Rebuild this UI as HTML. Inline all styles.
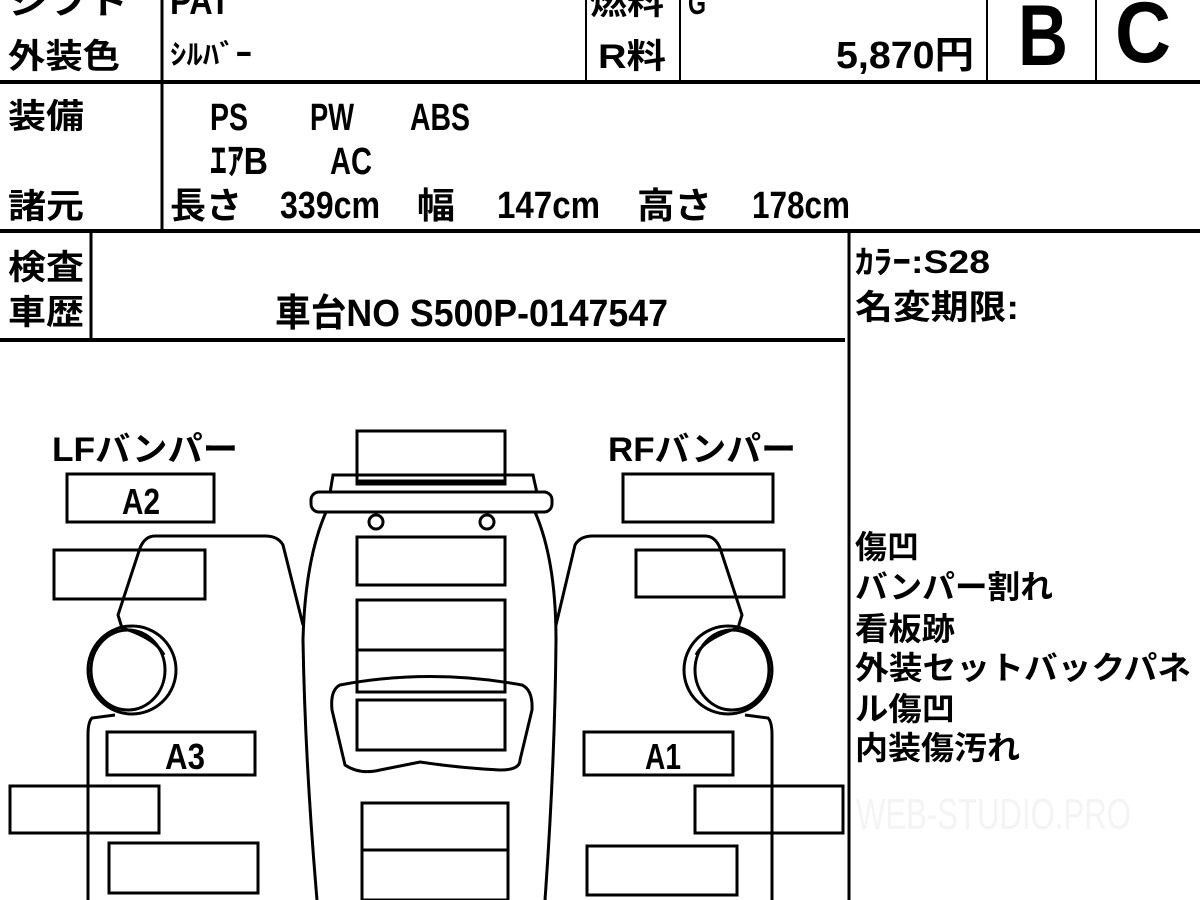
<!DOCTYPE html>
<html><head><meta charset="utf-8"><style>
html,body{margin:0;padding:0;background:#fff;}
svg{display:block}
text{font-family:"Liberation Sans","Noto Sans CJK JP",sans-serif;font-weight:bold;fill:#000}
</style></head><body>
<svg width="1200" height="900" viewBox="0 0 1200 900" xmlns="http://www.w3.org/2000/svg">
<g stroke="#000" fill="none">
<line x1="0" y1="82" x2="1200" y2="82" stroke-width="4"/>
<line x1="162" y1="0" x2="162" y2="230" stroke-width="3"/>
<line x1="586" y1="0" x2="586" y2="82" stroke-width="2"/>
<line x1="680" y1="0" x2="680" y2="82" stroke-width="2"/>
<line x1="987" y1="0" x2="987" y2="82" stroke-width="2"/>
<line x1="1096" y1="0" x2="1096" y2="82" stroke-width="2"/>
<line x1="0" y1="231" x2="1200" y2="231" stroke-width="4"/>
<line x1="91" y1="233" x2="91" y2="340" stroke-width="3"/>
<line x1="0" y1="340" x2="845" y2="340" stroke-width="4"/>
<line x1="849" y1="233" x2="849" y2="900" stroke-width="3"/>

<g stroke-width="3">
<rect x="67" y="474" width="147" height="48"/>
<rect x="54" y="550" width="151" height="49"/>
<rect x="623" y="474" width="150" height="48"/>
<rect x="636" y="550" width="148" height="47"/>
<rect x="357" y="431" width="148" height="53"/>
<rect x="357" y="537" width="148" height="48"/>
<rect x="357" y="600" width="148" height="50"/>
<rect x="357" y="650" width="148" height="42"/>
<rect x="357" y="700" width="148" height="50"/>
<rect x="362" y="803" width="146" height="47"/>
<rect x="362" y="850" width="146" height="50"/>
<rect x="107" y="732" width="148" height="43"/>
<rect x="10" y="786" width="149" height="47"/>
<rect x="109" y="843" width="149" height="50"/>
<rect x="584" y="732" width="149" height="43"/>
<rect x="695" y="786" width="148" height="47"/>
<rect x="587" y="846" width="150" height="49"/>
</g>
<line x1="357" y1="482" x2="505" y2="482" stroke-width="5"/>
<path d="M330,493 L333,475 L533,475 L537,493" stroke-width="3"/>
<rect x="311" y="492" width="241" height="20" rx="8" stroke-width="3"/>
<circle cx="376" cy="522" r="7" stroke-width="3"/>
<circle cx="487" cy="522" r="7" stroke-width="3"/>
<path d="M326,512 Q305,560 303,640 Q305,760 317,900" stroke-width="3"/>
<path d="M535,512 Q556,560 556,640 Q555,760 545,900" stroke-width="3"/>
<path d="M340,685 Q330,690 332,710 L345,765 Q360,775 380,770 L420,762 Q460,768 500,770 Q520,770 520,760 L532,710 Q533,690 522,685 Q430,668 340,685 Z" stroke-width="3"/>
<path d="M303,625 L283,545 Q278,536 265,536 L155,536 Q145,536 140,548 L118,615 L122,628 Q155,638 164,655" stroke-width="3"/>
<ellipse cx="132" cy="670" rx="44" ry="44" stroke-width="3"/>
<ellipse cx="128" cy="670" rx="37" ry="40" stroke-width="3"/>
<path d="M115,715 L92,718 Q88,722 88,735 L88,900" stroke-width="3"/>
<path d="M556,625 L575,545 Q580,536 593,536 L705,536 Q715,536 720,548 L742,615 L738,628 Q705,638 696,655" stroke-width="3"/>
<ellipse cx="728" cy="670" rx="44" ry="44" stroke-width="3"/>
<ellipse cx="732" cy="670" rx="37" ry="40" stroke-width="3"/>
<path d="M745,715 L768,718 Q772,722 772,735 L772,900" stroke-width="3"/>
</g>

<g lengthAdjust="spacingAndGlyphs">
<text x="8" y="14" font-size="34" textLength="120" lengthAdjust="spacingAndGlyphs">シフト</text>
<text x="8" y="68" font-size="34" textLength="112" lengthAdjust="spacingAndGlyphs">外装色</text>
<text x="170" y="14" font-size="38" textLength="60" lengthAdjust="spacingAndGlyphs">PAT</text>
<text x="170" y="64" font-size="28" textLength="82" lengthAdjust="spacingAndGlyphs">ｼﾙﾊﾞｰ</text>
<text x="590" y="14" font-size="32" textLength="74" lengthAdjust="spacingAndGlyphs">燃料</text>
<text x="688" y="14" font-size="32" textLength="18" lengthAdjust="spacingAndGlyphs">G</text>
<text x="598" y="68" font-size="34" textLength="68" lengthAdjust="spacingAndGlyphs">R料</text>
<text x="836" y="68" font-size="38" textLength="138" lengthAdjust="spacingAndGlyphs">5,870円</text>
<text x="1018" y="65" font-size="86" textLength="50" lengthAdjust="spacingAndGlyphs">B</text>
<text x="1115" y="62" font-size="86" textLength="56" lengthAdjust="spacingAndGlyphs">C</text>

<text x="8" y="128" font-size="34" textLength="76" lengthAdjust="spacingAndGlyphs">装備</text>
<text x="210" y="130" font-size="38" textLength="38" lengthAdjust="spacingAndGlyphs">PS</text>
<text x="310" y="130" font-size="38" textLength="44" lengthAdjust="spacingAndGlyphs">PW</text>
<text x="410" y="130" font-size="38" textLength="60" lengthAdjust="spacingAndGlyphs">ABS</text>
<text x="210" y="174" font-size="38" textLength="58" lengthAdjust="spacingAndGlyphs">ｴｱB</text>
<text x="330" y="174" font-size="38" textLength="42" lengthAdjust="spacingAndGlyphs">AC</text>
<text x="8" y="218" font-size="34" textLength="76" lengthAdjust="spacingAndGlyphs">諸元</text>
<text x="170" y="218" font-size="36" textLength="72" lengthAdjust="spacingAndGlyphs">長さ</text>
<text x="280" y="218" font-size="38" textLength="100" lengthAdjust="spacingAndGlyphs">339cm</text>
<text x="417" y="218" font-size="36" textLength="38" lengthAdjust="spacingAndGlyphs">幅</text>
<text x="497" y="218" font-size="38" textLength="103" lengthAdjust="spacingAndGlyphs">147cm</text>
<text x="637" y="218" font-size="36" textLength="75" lengthAdjust="spacingAndGlyphs">高さ</text>
<text x="752" y="218" font-size="38" textLength="98" lengthAdjust="spacingAndGlyphs">178cm</text>

<text x="8" y="279" font-size="34" textLength="76" lengthAdjust="spacingAndGlyphs">検査</text>
<text x="8" y="324" font-size="34" textLength="76" lengthAdjust="spacingAndGlyphs">車歴</text>
<text x="275" y="326" font-size="38" textLength="393" lengthAdjust="spacingAndGlyphs">車台NO S500P-0147547</text>
<text x="855" y="273" font-size="32" textLength="135" lengthAdjust="spacingAndGlyphs">ｶﾗｰ:S28</text>
<text x="855" y="319" font-size="34" textLength="164" lengthAdjust="spacingAndGlyphs">名変期限:</text>

<text x="52" y="461" font-size="34" textLength="186" lengthAdjust="spacingAndGlyphs">LFバンパー</text>
<text x="608" y="461" font-size="34" textLength="188" lengthAdjust="spacingAndGlyphs">RFバンパー</text>
<text x="122" y="514" font-size="36" textLength="38" lengthAdjust="spacingAndGlyphs">A2</text>
<text x="165" y="769" font-size="36" textLength="40" lengthAdjust="spacingAndGlyphs">A3</text>
<text x="645" y="769" font-size="36" textLength="36" lengthAdjust="spacingAndGlyphs">A1</text>
</g>

<g font-size="32">
<text x="855" y="558" textLength="64" lengthAdjust="spacingAndGlyphs">傷凹</text>
<text x="855" y="598" textLength="198" lengthAdjust="spacingAndGlyphs">バンパー割れ</text>
<text x="855" y="640" textLength="100" lengthAdjust="spacingAndGlyphs">看板跡</text>
<text x="855" y="679" textLength="336" lengthAdjust="spacingAndGlyphs">外装セットバックパネ</text>
<text x="855" y="720" textLength="100" lengthAdjust="spacingAndGlyphs">ル傷凹</text>
<text x="855" y="759" textLength="165" lengthAdjust="spacingAndGlyphs">内装傷汚れ</text>
</g>
<text x="856" y="829" font-size="44" style="font-weight:normal;fill:#f4f4f4" textLength="275" lengthAdjust="spacingAndGlyphs">WEB-STUDIO.PRO</text>
</svg>
</body></html>
